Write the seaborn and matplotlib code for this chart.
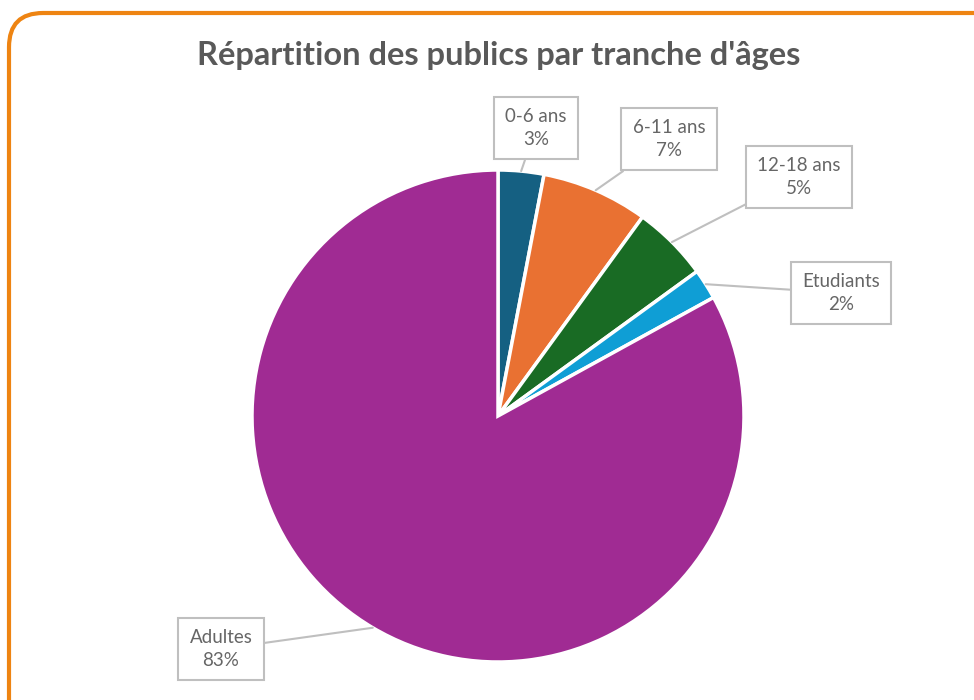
import numpy as np
import matplotlib.pyplot as plt
import seaborn as sns
from matplotlib.patches import FancyBboxPatch

sns.set_theme(style="white")
plt.rcParams['font.family'] = ['Lato', 'DejaVu Sans']

# Data
categories = ['0-6 ans', '6-11 ans', '12-18 ans', 'Etudiants', 'Adultes']
values = [3, 7, 5, 2, 83]
colors = ['#156082', '#E97132', '#196B24', '#0F9ED5', '#A02B93']

# label box centres, in pixels of the 974x700 picture
label_px = [(536, 128), (669, 139), (799, 177), (841, 293), (221, 649)]

W, H = 974, 700
cx, cy, R = 498, 416, 246


def to_data(px, py):
    return (px - cx) / R, (cy - py) / R


fig = plt.figure(figsize=(W / 100, H / 100), dpi=100)
fig.patch.set_facecolor('white')

# orange rounded frame
frame = FancyBboxPatch((9 / W, -0.05), 1.2, (H - 13) / H + 0.05,
                       boxstyle="round,pad=0,rounding_size=0.035",
                       transform=fig.transFigure, fill=False,
                       edgecolor='#EE8412', linewidth=3, mutation_aspect=W / H)
fig.patches.append(frame)

ax = fig.add_axes([0, 0, 1, 1])

wedges, _ = ax.pie(values, colors=colors, startangle=90, counterclock=False,
                   radius=1, wedgeprops=dict(edgecolor='white', linewidth=2.5))

# pie() resets the limits, so set them afterwards
ax.set_xlim(-cx / R, (W - cx) / R)
ax.set_ylim((cy - H) / R, cy / R)
ax.set_aspect('equal')
ax.axis('off')

for w, cat, val, pos in zip(wedges, categories, values, label_px):
    ang = np.deg2rad((w.theta1 + w.theta2) / 2)
    tip = (np.cos(ang), np.sin(ang))
    ax.annotate(f"{cat}\n{val}%", xy=tip, xytext=to_data(*pos),
                ha='center', va='center', fontsize=13.5, color='#666666',
                linespacing=1.45,
                bbox=dict(boxstyle='square,pad=0.6', fc='white', ec='#BFBFBF', lw=1.5),
                arrowprops=dict(arrowstyle='-', color='#BFBFBF', lw=1.5,
                                shrinkA=0, shrinkB=0))

fig.text(499 / W, 1 - 55 / H, "Répartition des publics par tranche d'âges",
         ha='center', va='center', fontsize=23.5, fontweight='bold', color='#595959')

fig.savefig('out.png', dpi=100)
